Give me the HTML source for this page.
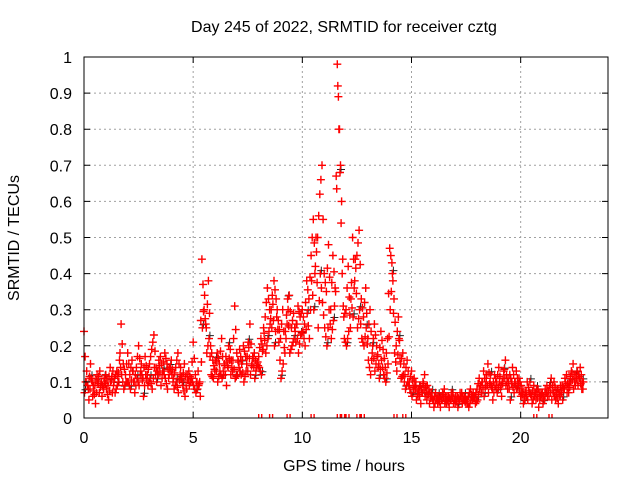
<!DOCTYPE html>
<html><head><meta charset="utf-8"><style>
body{margin:0;background:#fff}
svg{display:block;font-family:"Liberation Sans",sans-serif}
</style></head><body>
<svg id="chart" width="640" height="480" viewBox="0 0 640 480">
<rect width="640" height="480" fill="#fff"/>
<text x="344" y="32" font-size="16" text-anchor="middle">Day 245 of 2022, SRMTID for receiver cztg</text>
<text x="344" y="471" font-size="16" text-anchor="middle">GPS time / hours</text>
<text transform="translate(19,238) rotate(-90)" font-size="16" text-anchor="middle">SRMTID / TECUs</text>
<g id="grid"></g>
<g id="marks"></g>
<rect x="84" y="57" width="524" height="361" fill="none" stroke="#000" stroke-width="1"/>
<g id="ticks"></g>
</svg>
<script>
const xTicks=[0,5,10,15,20];
const yTicks=[0,0.1,0.2,0.3,0.4,0.5,0.6,0.7,0.8,0.9,1];
const yTickLabels=["0","0.1","0.2","0.3","0.4","0.5","0.6","0.7","0.8","0.9","1"];
const seriesA=[.24,.10,.08,.15,.06,.09,.12,.07,.10,.08,.12,.09,.14,.07,.11,.13,.10,.26,.15,.12,.18,.12,.16,.10,.14,.20,.13,.11,.17,.12,.15,.19,.23,.14,.12,.17,.13,.18,.15,.12,.16,.11,.14,.18,.12,.10,.15,.08,.13,.10,.21,.12,.08,.10,.44,.30,.25,.38,.20,.16,.13,.18,.15,.22,.12,.17,.14,.19,.13,.31,.18,.14,.12,.20,.17,.13,.26,.15,.18,.14,.17,.22,.19,.28,.36,.30,.25,.38,.33,.27,.22,.30,.18,.26,.34,.25,.29,.21,.31,.28,.30,.26,.38,.33,.45,.55,.42,.50,.62,.70,.40,.35,.48,.30,.45,.36,.98,.80,.60,.28,.30,.42,.25,.50,.38,.45,.52,.33,.28,.36,.22,.30,.18,.26,.20,.15,.24,.19,.14,.22,.47,.43,.33,.20,.28,.15,.18,.12,.16,.10,.13,.08,.10,.06,.09,.07,.12,.05,.08,.06,.05,.07,.04,.06,.05,.08,.04,.06,.05,.07,.04,.06,.05,.07,.05,.04,.06,.08,.05,.06,.08,.11,.07,.13,.09,.15,.10,.08,.12,.10,.14,.09,.11,.16,.08,.12,.10,.07,.13,.09,.06,.08,.05,.10,.07,.06,.09,.05,.08,.06,.07,.05,.09,.06,.11,.07,.05,.08,.06,.09,.08,.12,.07,.10,.15,.09,.13,.11,.08];
const seriesB=[.07,.13,.05,.11,.09,.04,.10,.13,.06,.11,.08,.05,.10,.13,.07,.09,.16,.12,.08,.10,.10,.08,.13,.07,.11,.09,.15,.06,.12,.09,.11,.08,.14,.10,.16,.09,.13,.11,.08,.14,.12,.08,.10,.07,.14,.09,.06,.12,.09,.11,.09,.07,.13,.06,.25,.34,.18,.22,.12,.11,.16,.10,.13,.11,.15,.09,.20,.12,.16,.11,.12,.19,.15,.10,.13,.21,.12,.17,.11,.15,.14,.12,.25,.18,.22,.26,.34,.20,.28,.21,.11,.15,.24,.33,.18,.20,.22,.26,.18,.23,.24,.20,.29,.22,.38,.30,.50,.25,.40,.32,.25,.20,.30,.22,.27,.35,.92,.68,.40,.22,.20,.24,.33,.28,.44,.25,.30,.22,.20,.25,.16,.12,.20,.13,.17,.11,.16,.12,.10,.15,.30,.40,.18,.13,.22,.11,.12,.08,.10,.08,.06,.11,.05,.08,.04,.10,.06,.09,.04,.07,.03,.05,.06,.03,.07,.04,.06,.03,.07,.04,.06,.03,.07,.04,.06,.05,.03,.05,.07,.04,.05,.08,.10,.06,.11,.07,.12,.05,.09,.07,.10,.06,.13,.09,.11,.05,.14,.10,.08,.11,.09,.04,.07,.05,.10,.04,.06,.08,.03,.07,.04,.08,.06,.09,.05,.10,.07,.04,.09,.05,.11,.07,.10,.13,.08,.12,.09,.14,.10];
const zeroTimes=[8.0,8.5,9.3,10.4,11.6,11.8,12.0,12.5,12.7,14.2,14.6,20.6,21.3];
const X0=84,X1=608,Y0=418,Y1=57,XMAX=24;
function xs(h){return X0+(X1-X0)*h/XMAX;}
function ys(v){return Y0-(Y0-Y1)*v;}
const NS="http://www.w3.org/2000/svg";
const grid=document.getElementById('grid'),ticks=document.getElementById('ticks'),marks=document.getElementById('marks');
yTicks.forEach((v,i)=>{
  const y=ys(v);
  if(i>0&&i<yTicks.length-1){
    const l=document.createElementNS(NS,'line');
    
    
    l.setAttribute('x1',X0);l.setAttribute('x2',X1);l.setAttribute('y1',y);l.setAttribute('y2',y);
    l.setAttribute('stroke','#a0a0a0');l.setAttribute('stroke-dasharray','2,3');grid.appendChild(l);
  }
  const t=document.createElementNS(NS,'text');
  
  
  t.setAttribute('x',X0-12);t.setAttribute('y',y+6);t.setAttribute('font-size','16');t.setAttribute('text-anchor','end');
  t.textContent=yTickLabels[i];ticks.appendChild(t);
  const tk=document.createElementNS(NS,'path');
  
  
  tk.setAttribute('d',`M${X0} ${y}h6M${X1} ${y}h-6`);tk.setAttribute('stroke','#000');ticks.appendChild(tk);
});
xTicks.forEach(h=>{
  const x=xs(h);
  if(h>0){
    const l=document.createElementNS(NS,'line');
    
    
    l.setAttribute('x1',x);l.setAttribute('x2',x);l.setAttribute('y1',Y0);l.setAttribute('y2',Y1);
    l.setAttribute('stroke','#a0a0a0');l.setAttribute('stroke-dasharray','2,3');grid.appendChild(l);
  }
  const t=document.createElementNS(NS,'text');
  
  
  t.setAttribute('x',x);t.setAttribute('y',Y0+25);t.setAttribute('font-size','16');t.setAttribute('text-anchor','middle');
  t.textContent=String(h);ticks.appendChild(t);
  const tk=document.createElementNS(NS,'path');
  
  
  tk.setAttribute('d',`M${x} ${Y0}v-6M${x} ${Y1}v6`);tk.setAttribute('stroke','#000');ticks.appendChild(tk);
});
function plus(h,v,dx,dy){
  const x=xs(h)+dx,y=ys(v)+dy;
  return `M${(x-4).toFixed(1)} ${y.toFixed(1)}h8M${x.toFixed(1)} ${(y-4).toFixed(1)}v8`;
}
let dBlack='',dRed='';
seriesB.forEach((v,i)=>{if(i%3===0)dBlack+=plus(i*0.1,v,1.5,-3);});
const n=seriesA.length;
seriesA.forEach((v,i)=>{
  const nv=i+1<n?seriesA[i+1]:v;
  dRed+=plus(i*0.1,v,0,0);
  dRed+=plus(i*0.1+0.05,(v+nv)/2,0,0);
});
seriesB.forEach((v,i)=>{
  const nv=i+1<n?seriesB[i+1]:v;
  dRed+=plus(i*0.1+0.025,v,0,0);
  dRed+=plus(i*0.1+0.075,(v+nv)/2,0,0);
});
zeroTimes.forEach(h=>{const x=xs(h);dRed+=`M${x.toFixed(1)} ${Y0-4}v4M${(x+3).toFixed(1)} ${Y0-4}v4`;});
const pb=document.createElementNS(NS,'path');


pb.setAttribute('d',dBlack);pb.setAttribute('stroke','#222');pb.setAttribute('stroke-width','1');pb.setAttribute('fill','none');marks.appendChild(pb);
const pr=document.createElementNS(NS,'path');


pr.setAttribute('d',dRed);pr.setAttribute('stroke','red');pr.setAttribute('stroke-width','1.4');pr.setAttribute('fill','none');marks.appendChild(pr);
</script>
</body></html>
